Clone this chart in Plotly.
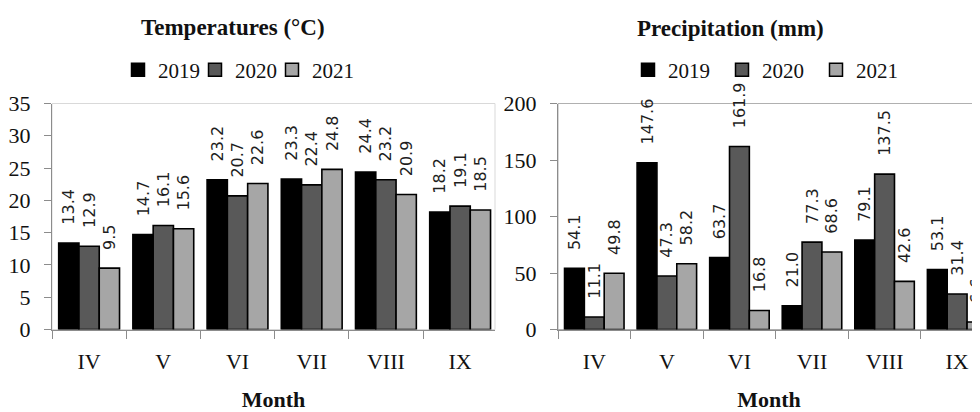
import plotly.graph_objects as go

months = ["IV", "V", "VI", "VII", "VIII", "IX"]
years = ["2019", "2020", "2021"]
temp_2019 = [13.4, 14.7, 23.2, 23.3, 24.4, 18.2]
temp_2020 = [12.9, 16.1, 20.7, 22.4, 23.2, 19.1]
temp_2021 = [9.5, 15.6, 22.6, 24.8, 20.9, 18.5]
prec_2019 = [54.1, 147.6, 63.7, 21.0, 79.1, 53.1]
prec_2020 = [11.1, 47.3, 161.9, 77.3, 137.5, 31.4]
prec_2021 = [49.8, 58.2, 16.8, 68.6, 42.6, 6.6]

colors = ["#000000", "#595959", "#a6a6a6"]
OFF = 8  # page body margin
W, H = 980 - OFF, 412 - OFF
SERIF = "Liberation Serif"
SANS = "DejaVu Sans"


def px(x):
    return (x - OFF) / W


def py(y):
    return (412 - y) / H


fig = go.Figure()


def add_series(vals_list, xa, ya, legend):
    for yr, vals, col in zip(years, vals_list, colors):
        fig.add_trace(go.Bar(
            x=months, y=vals, name=yr, xaxis=xa, yaxis=ya, showlegend=False,
            marker=dict(color=col, line=dict(color="#000000", width=1.6)),
            texttemplate="\u00a0\u00a0\u00a0%{y:.1f}", textposition="outside",
            textangle=-90, constraintext="none", cliponaxis=False,
            textfont=dict(family=SANS, size=16, color="#1e1e1e"),
        ))
    for i, (yr, col) in enumerate(zip(years, colors)):
        extra = dict(legendwidth=60) if i == len(years) - 1 else {}
        fig.add_trace(go.Scatter(
            x=[None], y=[None], name=yr, xaxis=xa, yaxis=ya, legend=legend,
            mode="markers", showlegend=True, hoverinfo="skip",
            marker=dict(symbol="square", size=13, color=col,
                        line=dict(color="#000000", width=1.5)),
            **extra,
        ))


add_series([temp_2019, temp_2020, temp_2021], "x", "y", "legend")
add_series([prec_2019, prec_2020, prec_2021], "x2", "y2", "legend2")

ydom = [py(329.5), py(103.5)]
axis_line = "#8c8c8c"


def xaxis(dom, rng):
    return dict(domain=dom, type="category", categoryarray=months, range=rng,
                tickson="boundaries", ticks="outside", ticklen=8, tickcolor=axis_line,
                showline=True, linecolor=axis_line, linewidth=1, showgrid=False,
                zeroline=False, automargin=False,
                tickfont=dict(family=SERIF, size=22, color="#111"),
                ticklabelstandoff=12,
                title=dict(text="<b>Month</b>", font=dict(family=SERIF, size=22, color="#111"),
                           standoff=18))


def yaxis(anchor, rng, dt):
    return dict(domain=ydom, anchor=anchor, range=rng, dtick=dt, ticks="outside",
                ticklen=7, tickcolor=axis_line, showline=True, linecolor=axis_line,
                linewidth=1, showgrid=False, zeroline=False, automargin=False,
                tickfont=dict(family=SERIF, size=22, color="#111"), ticklabelstandoff=9)


legend_font = dict(family=SERIF, size=21, color="#111")

fig.update_layout(
    template="none", width=W, height=H, autosize=False,
    font=dict(family=SERIF, size=20, color="#111"),
    margin=dict(l=0, r=0, t=0, b=0), paper_bgcolor="white", plot_bgcolor="white",
    barmode="group", bargap=0.18, bargroupgap=0,
    xaxis=xaxis([px(52), px(495)], [-0.5, 5.47]),
    yaxis=yaxis("x", [0, 35], 5),
    xaxis2=xaxis([px(558), 1.0], [-0.5, 5.315]),
    yaxis2=yaxis("x2", [0, 200], 50),
    legend=dict(orientation="h", x=px(118), xanchor="left", y=py(70), yanchor="middle",
                entrywidth=32, entrywidthmode="pixels", bgcolor="rgba(0,0,0,0)",
                font=legend_font, traceorder="normal", itemwidth=30),
    legend2=dict(orientation="h", x=px(628), xanchor="left", y=py(70), yanchor="middle",
                 entrywidth=49, entrywidthmode="pixels", bgcolor="rgba(0,0,0,0)",
                 font=legend_font, traceorder="normal", itemwidth=30),
    showlegend=True,
    annotations=[
        dict(text="<b>Temperatures (°C)</b>", x=px(233), y=py(27), xref="paper", yref="paper",
             showarrow=False, xanchor="center", yanchor="middle",
             font=dict(family=SERIF, size=23, color="#111")),
        dict(text="<b>Precipitation (mm)</b>", x=px(730), y=py(28), xref="paper", yref="paper",
             showarrow=False, xanchor="center", yanchor="middle",
             font=dict(family=SERIF, size=23, color="#111")),
    ],
    shapes=[
        dict(type="rect", xref="x domain", yref="y domain", x0=0, x1=1, y0=0, y1=1,
             line=dict(color="#d9d9d9", width=1), layer="below"),
        dict(type="rect", xref="x2 domain", yref="y2 domain", x0=0, x1=1.05, y0=0, y1=1,
             line=dict(color="#b0b0b0", width=1), layer="below"),
    ],
)

fig.write_html("out.html")
